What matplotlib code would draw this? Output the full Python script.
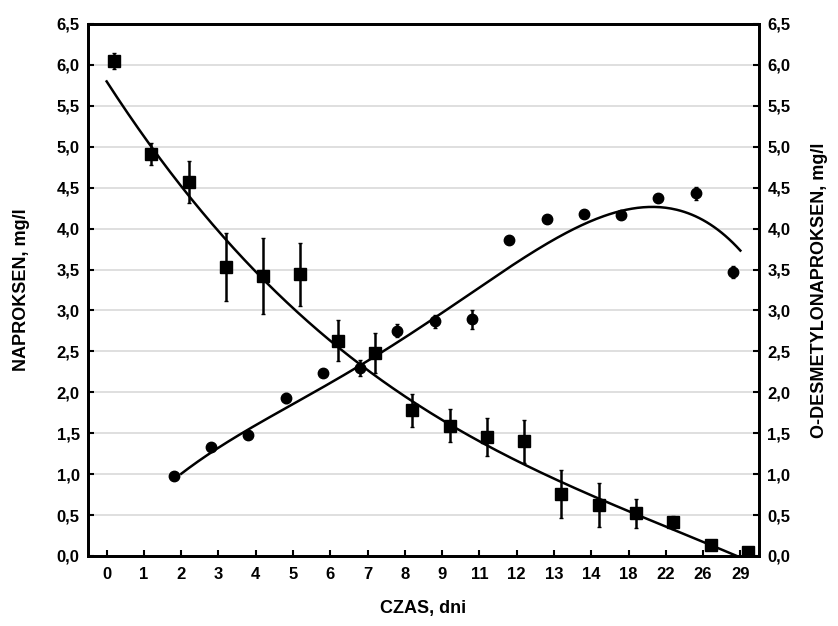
import numpy as np
import matplotlib
matplotlib.use("Agg")
import matplotlib.pyplot as plt
from matplotlib.ticker import FuncFormatter, MultipleLocator

plt.rcParams['font.family'] = ['Liberation Sans', 'DejaVu Sans']
plt.rcParams['font.weight'] = 'bold'

days = ["0", "1", "2", "3", "4", "5", "6", "7", "8", "9", "11", "12", "13", "14", "18", "22", "26", "29"]

naproksen = [6.05, 4.91, 4.57, 3.53, 3.42, 3.44, 2.63, 2.48, 1.78, 1.59, 1.45, 1.40, 0.76, 0.62, 0.52, 0.41, 0.13, 0.05]
naproksen_err = [0.10, 0.13, 0.26, 0.42, 0.46, 0.38, 0.25, 0.25, 0.20, 0.20, 0.23, 0.26, 0.29, 0.27, 0.18, 0.08, 0.0, 0.05]

odesm_days = ["2", "3", "4", "5", "6", "7", "8", "9", "11", "12", "13", "14", "18", "22", "26", "29"]
odesm = [0.98, 1.33, 1.48, 1.93, 2.24, 2.30, 2.75, 2.87, 2.89, 3.86, 4.12, 4.18, 4.17, 4.38, 4.43, 3.47]
odesm_err = [0.0, 0.0, 0.0, 0.06, 0.0, 0.10, 0.08, 0.08, 0.12, 0.0, 0.0, 0.0, 0.0, 0.0, 0.08, 0.07]

# trend line of O-desmetylonaproksen (at day labels)
odesm_trend_days = ["2", "5", "7", "9", "11", "12", "13", "14", "18", "22", "26", "29"]
odesm_trend = [1.0, 1.87, 2.4, 2.94, 3.21, 3.62, 3.94, 4.1, 4.23, 4.23, 4.07, 3.76]

fig = plt.figure(figsize=(8.38, 6.26), dpi=100)
ax = fig.add_axes([88/838, 1-556/626, (759-88)/838, (556-24)/626])
ax2 = ax.twinx()

pos = np.arange(len(days))
opos = np.array([days.index(d) for d in odesm_days])
tpos = np.array([days.index(d) for d in odesm_trend_days])

# cubic trend line fitted to NAPROKSEN data
cn = np.polyfit(pos, naproksen, 3)
xn = np.linspace(0, len(days) - 1, 300)
ax.plot(xn, np.polyval(cn, xn), color='black', lw=1.8, zorder=3)

co = np.polyfit(tpos, odesm_trend, 4)
xo = np.linspace(tpos[0], tpos[-1], 300)
ax.plot(xo, np.polyval(co, xo), color='black', lw=1.8, zorder=3)

ax.errorbar(pos + 0.2, naproksen, yerr=naproksen_err, fmt='s', color='black',
            ms=8, elinewidth=1.8, capsize=1.5, zorder=4)
ax2.errorbar(opos - 0.2, odesm, yerr=odesm_err, fmt='o', color='black',
             ms=7.5, elinewidth=1.8, capsize=1.5, zorder=4)

for a in (ax, ax2):
    a.set_ylim(0, 6.5)
    a.yaxis.set_major_locator(MultipleLocator(0.5))
    a.yaxis.set_major_formatter(FuncFormatter(lambda v, p: f"{v:.1f}".replace('.', ',')))
    a.tick_params(axis='y', direction='in', length=4, width=1.5, labelsize=12, pad=6)
    for s in a.spines.values():
        s.set_linewidth(2)
ax.set_xlim(-0.5, len(days) - 0.5)
ax.set_xticks(pos)
ax.set_xticklabels(days)
ax.tick_params(axis='x', direction='in', length=4, width=1.5, labelsize=12, pad=8)
ax.grid(axis='y', color='#d9d9d9', lw=1.2)
ax.set_axisbelow(True)

ax.set_ylabel("NAPROKSEN, mg/l", fontsize=13, fontweight='bold', labelpad=19)
ax2.set_ylabel("O-DESMETYLONAPROKSEN, mg/l", fontsize=13, fontweight='bold', labelpad=15)
ax.set_xlabel("CZAS, dni", fontsize=13, fontweight='bold', labelpad=13)

fig.savefig("out.png", dpi=100)
